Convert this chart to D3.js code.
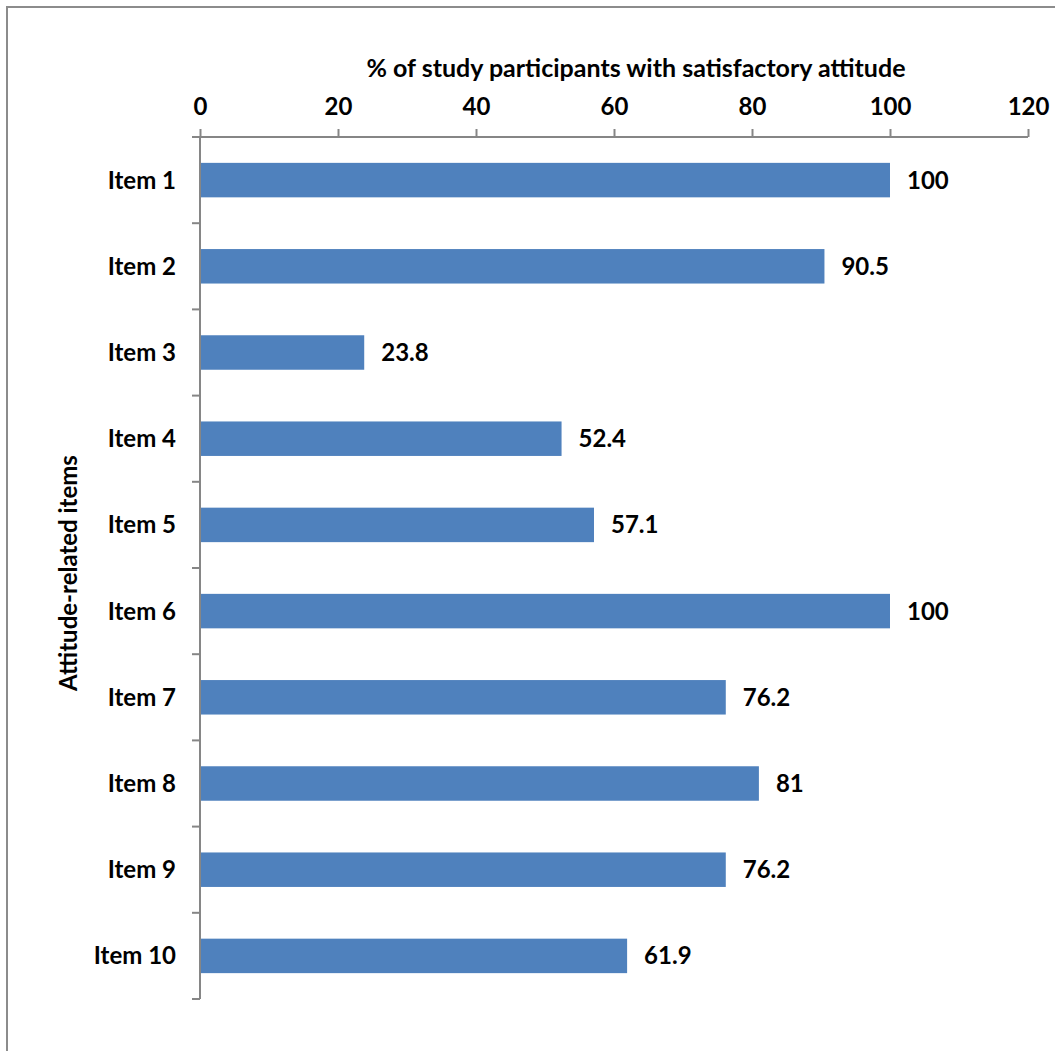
<!DOCTYPE html>
<html>
<head>
<meta charset="utf-8">
<script src="https://cdn.jsdelivr.net/npm/d3@7"></script>
<style>
  html, body { margin: 0; padding: 0; background: #fff; }
  svg { display: block; }
  text { font-family: Lato, "Open Sans", sans-serif; font-weight: bold; fill: #000; }
</style>
</head>
<body>
<svg id="chart" width="1055" height="1051"></svg>
<script>
// Attitude items and the share of participants with a satisfactory attitude
const categories = ["Item 1", "Item 2", "Item 3", "Item 4", "Item 5",
                    "Item 6", "Item 7", "Item 8", "Item 9", "Item 10"];
const values = [100, 90.5, 23.8, 52.4, 57.1, 100, 76.2, 81, 76.2, 61.9];
const xTicks = [0, 20, 40, 60, 80, 100, 120];
const xTitle = "% of study participants with satisfactory attitude";
const yTitle = "Attitude-related items";

const svg = d3.select("#chart");
const axisColor = "#868686";
const fontSize = 24;

// outer frame of the chart area
svg.append("rect")
  .attr("x", 7).attr("y", 7)
  .attr("width", 1200).attr("height", 1200)
  .attr("fill", "none").attr("stroke", "#8c8c8c").attr("stroke-width", 2);

const plotLeft = 200, plotRight = 1028, plotTop = 137, plotBottom = 999;

const x = d3.scaleLinear().domain([0, 120]).range([plotLeft, plotRight]);
const y = d3.scaleBand().domain(categories).range([plotTop, plotBottom])
  .paddingInner(0.6).paddingOuter(0.3);
const yb = d3.scaleBand().domain(categories).range([plotTop, plotBottom]);

// bars
svg.append("g").selectAll("rect")
  .data(values)
  .join("rect")
  .attr("x", x(0))
  .attr("y", (d, i) => y(categories[i]))
  .attr("width", d => x(d) - x(0))
  .attr("height", y.bandwidth())
  .attr("fill", "#4F81BD");

// value labels
svg.append("g").selectAll("text")
  .data(values)
  .join("text")
  .attr("x", d => x(d) + 17)
  .attr("y", (d, i) => y(categories[i]) + y.bandwidth() / 2)
  .attr("dy", "0.35em")
  .attr("font-size", fontSize)
  .text(d => d3.format("~g")(d));

// top value axis
const xAxis = d3.axisTop(x).tickValues(xTicks).tickSize(8).tickSizeOuter(0).tickPadding(14)
  .tickFormat(d3.format("d"));
const gx = svg.append("g").attr("transform", `translate(0,${plotTop})`).call(xAxis);
gx.select(".domain").attr("stroke", axisColor).attr("stroke-width", 2)
  .attr("d", `M${plotLeft - 8},0H${plotRight}`);
gx.selectAll(".tick line").attr("stroke", axisColor).attr("stroke-width", 2);
gx.selectAll(".tick text").attr("font-size", fontSize).attr("font-family", "Lato, sans-serif")
  .attr("font-weight", "bold").attr("fill", "#000");

// left category axis: ticks sit on band boundaries
const gy = svg.append("g").attr("transform", `translate(${plotLeft},0)`);
gy.append("line").attr("x1", 0).attr("x2", 0).attr("y1", plotTop).attr("y2", plotBottom)
  .attr("stroke", axisColor).attr("stroke-width", 2);
const boundaries = categories.map(c => yb(c)).concat([plotBottom]);
gy.selectAll("line.tick").data(boundaries).join("line")
  .attr("class", "tick")
  .attr("x1", -8).attr("x2", 0)
  .attr("y1", d => d).attr("y2", d => d)
  .attr("stroke", axisColor).attr("stroke-width", 2);
gy.selectAll("text").data(categories).join("text")
  .attr("x", -24)
  .attr("y", d => yb(d) + yb.bandwidth() / 2)
  .attr("dy", "0.35em")
  .attr("text-anchor", "end")
  .attr("font-size", fontSize)
  .text(d => d);

// axis titles
svg.append("text")
  .attr("x", 636).attr("y", 77)
  .attr("text-anchor", "middle")
  .attr("font-size", 25)
  .text(xTitle);

svg.append("text")
  .attr("transform", `translate(77,573) rotate(-90)`)
  .attr("text-anchor", "middle")
  .attr("font-size", fontSize)
  .text(yTitle);
</script>
</body>
</html>
